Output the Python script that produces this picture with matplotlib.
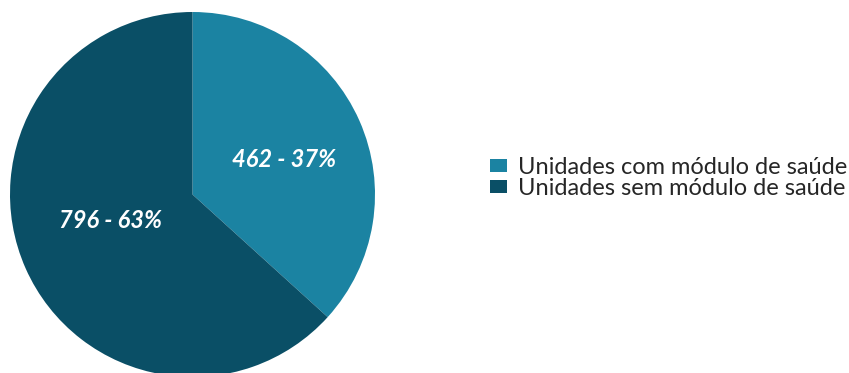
import matplotlib
matplotlib.use("Agg")
import matplotlib.pyplot as plt

categories = ["Unidades com módulo de saúde", "Unidades sem módulo de saúde"]
values = [462, 796]
percents = [37, 63]
colors = ["#1b83a2", "#0a4f66"]

W, H = 849, 373
fig = plt.figure(figsize=(W / 100, H / 100), dpi=100)
fig.patch.set_facecolor("white")

cx, cy, r = 192.5, 194.5, 182.5
ax = fig.add_axes([(cx - r) / W, ((H - cy) - r) / H, 2 * r / W, 2 * r / H])
wedges, _ = ax.pie(values, colors=colors, startangle=90, counterclock=False,
                   wedgeprops=dict(linewidth=0))
ax.set_xlim(-1, 1)
ax.set_ylim(-1, 1)
ax.set_aspect("equal")
ax.axis("off")

label_pos = [(0.50, 0.19), (-0.45, -0.14)]
for (x, y), v, p in zip(label_pos, values, percents):
    ax.text(x, y, f"{v} - {p}%", color="white", fontsize=17, fontweight="bold",
            fontstyle="italic", family="Lato", ha="center", va="center")

fig.legend(wedges, categories, loc="center left", bbox_to_anchor=(490 / W, 1 - 178 / H),
           frameon=False, prop=dict(family="Lato", size=17), labelcolor="#262626",
           handlelength=0.72, handleheight=0.5, handletextpad=0.47, labelspacing=0.0,
           borderpad=0, borderaxespad=0)

fig.savefig("out.png", dpi=100)
